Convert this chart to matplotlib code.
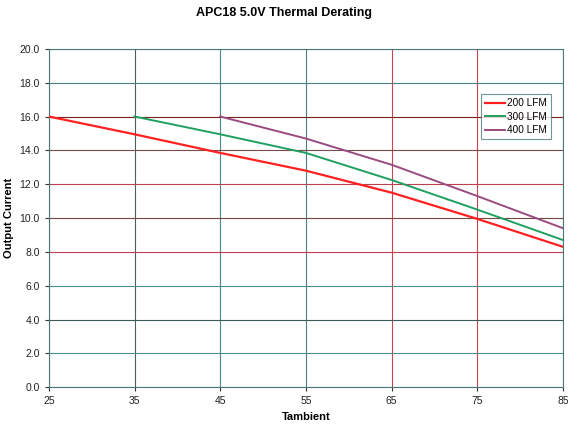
import matplotlib
matplotlib.use('Agg')
import matplotlib.pyplot as plt

# Data
temp_200 = [25, 35, 45, 55, 65, 75, 85]
lfm_200 = [16.0, 14.95, 13.85, 12.8, 11.5, 9.95, 8.3]

temp_300 = [35, 45, 55, 65, 75, 85]
lfm_300 = [16.0, 14.95, 13.85, 12.25, 10.5, 8.7]

temp_400 = [45, 55, 65, 75, 85]
lfm_400 = [16.0, 14.7, 13.15, 11.3, 9.4]

x_ticks = [25, 35, 45, 55, 65, 75, 85]
y_ticks = [0, 2, 4, 6, 8, 10, 12, 14, 16, 18, 20]

# grid colours vary line to line in the scan
vgrid_colors = ['#3a5a5a', '#4a6060', '#4a8a8a', '#4a8080', '#d04050', '#d04050', '#4a8a8a']
hgrid_colors = ['#3a5050', '#4a9090', '#3a5a5a', '#4a9090', '#c04050', '#7a4545',
                '#c04050', '#7a4a4a', '#7a2020', '#4a8080', '#4a8080']

plt.rcParams['font.family'] = ['Liberation Sans', 'DejaVu Sans']

fig = plt.figure(figsize=(5.68, 4.25), dpi=100)
ax = fig.add_axes([0.086, 0.089, 0.905, 0.796])

for x, c in zip(x_ticks, vgrid_colors):
    ax.axvline(x, color=c, lw=0.8, zorder=1)
for y, c in zip(y_ticks, hgrid_colors):
    ax.axhline(y, color=c, lw=0.8, zorder=1)

ax.plot(temp_200, lfm_200, color='#ff2020', lw=1.6, label='200 LFM', zorder=3)
ax.plot(temp_300, lfm_300, color='#20a060', lw=1.4, label='300 LFM', zorder=3)
ax.plot(temp_400, lfm_400, color='#9a4a80', lw=1.4, label='400 LFM', zorder=3)

ax.set_xlim(25, 85)
ax.set_ylim(0, 20)
ax.set_xticks(x_ticks)
ax.set_yticks(y_ticks)
ax.set_yticklabels(['%.1f' % v for v in y_ticks])
ax.tick_params(labelsize=7.5, length=3, width=0.8, color='#333333', labelcolor='#222222')

for s in ax.spines.values():
    s.set_color('#4a7a7a')
    s.set_linewidth(0.8)

ax.set_xlabel('Tambient', fontsize=8, fontweight='bold')
ax.set_ylabel('Output Current', fontsize=8, fontweight='bold')
ax.xaxis.set_label_coords(0.5, -0.072)
ax.yaxis.set_label_coords(-0.068, 0.5)
fig.suptitle('APC18 5.0V Thermal Derating', fontsize=9, fontweight='bold', x=0.5, y=0.983)

leg = ax.legend(loc='upper right', bbox_to_anchor=(0.977, 0.866), fontsize=7.2,
                frameon=True, fancybox=False, borderpad=0.4, labelspacing=0.35,
                handlelength=2.0, handletextpad=0.2, borderaxespad=0)
leg.get_frame().set_edgecolor('#4a7a7a')
leg.get_frame().set_linewidth(0.8)

fig.savefig('out.png', dpi=100)
